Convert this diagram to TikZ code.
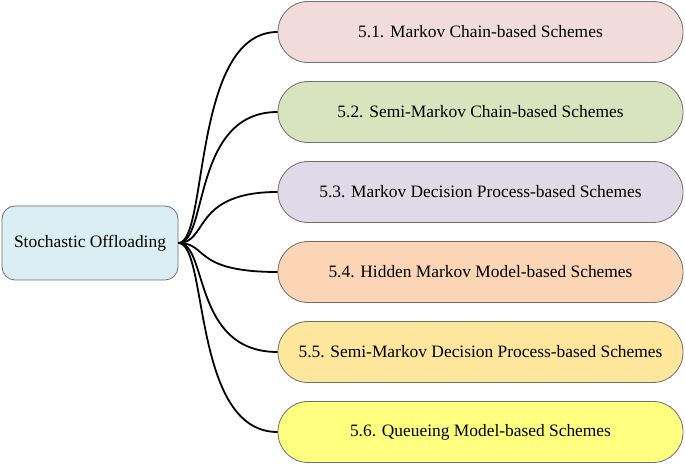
\documentclass[tikz,border=0pt]{standalone}
\usepackage{fontspec}
\setmainfont{Liberation Serif}
\usepackage{xcolor}
\definecolor{rootblue}{HTML}{DBEEF4}
\definecolor{pinkfill}{HTML}{F2DCDB}
\definecolor{greenfill}{HTML}{D7E4BD}
\definecolor{lilacfill}{HTML}{DFDAE8}
\definecolor{peachfill}{HTML}{FBD5B5}
\definecolor{goldfill}{HTML}{FEE69C}
\definecolor{yellowfill}{HTML}{FFFF80}
\definecolor{edgegray}{HTML}{6E6E6E}
\tikzstyle{root state}=[
        draw = edgegray,
        line width = 0.8pt,
        fill = rootblue,
        minimum width = 176pt,
        minimum height = 74pt,
        rounded corners = 13pt,
        font = \fontsize{17.4}{20}\selectfont
    ]
\tikzstyle{scheme state}=[
    draw = edgegray,
    line width = 0.8pt,
    minimum width = 405pt,
    minimum height = 61pt,
    rounded corners = 30pt,
    font = \fontsize{17.4}{20}\selectfont
]

\begin{document}
\begin{tikzpicture}[x=1pt, y=1pt, node distance={80pt}, link/.style = {line width=1.8pt}]
        \useasboundingbox (0,0) rectangle (685,465);
        \node[root state] (0) at (90,222) {Stochastic Offloading};
        \node[scheme state, fill=pinkfill] (1) at (480.5,433) {5.1. Markov Chain-based Schemes};
        \node[scheme state, fill=greenfill] (2) [below of = 1] {5.2. Semi-Markov Chain-based Schemes};
        \node[scheme state, fill=lilacfill] (3) [below of = 2] {5.3. Markov Decision Process-based Schemes};
        \node[scheme state, fill=peachfill] (4) [below of = 3] {5.4. Hidden Markov Model-based Schemes};
        \node[scheme state, fill=goldfill] (5) [below of = 4] {5.5. Semi-Markov Decision Process-based Schemes};
        \node[scheme state, fill=yellowfill] (6) [below of = 5] {5.6. Queueing Model-based Schemes};

        \foreach \i in {1,...,6}
            \draw[link] (0.east) .. controls +(30,0) and +(-86,0) .. (\i.west);

    \end{tikzpicture}
\end{document}
